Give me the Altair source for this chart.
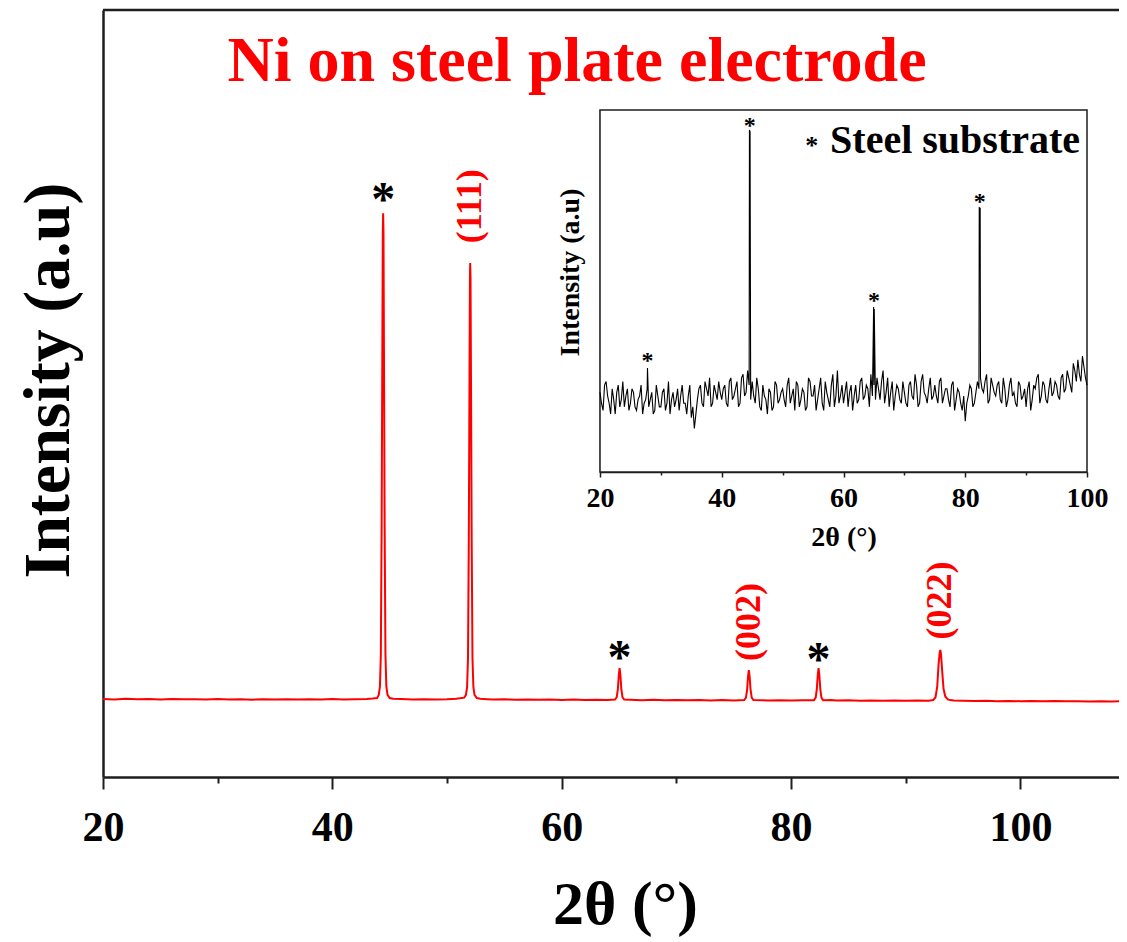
import altair as alt
import pandas as pd

FONT = "Liberation Serif"
RED = "#ff0000"
INK = "#1e1e1e"

# ---------------- main pattern (Ni on steel plate) ----------------
main_2theta = [
    20.0, 21.0, 22.0, 23.0, 24.0, 25.0, 26.0, 27.0, 28.0, 29.0, 30.0, 31.0, 32.0, 33.0, 34.0,
    35.0, 36.0, 37.0, 38.0, 39.0, 40.0, 41.0, 42.0, 43.0, 43.5,
    43.9, 44.05, 44.15, 44.23, 44.3, 44.36, 44.4, 44.43, 44.46, 44.5, 44.56, 44.63, 44.71, 44.81, 45.0, 45.3,
    46.0, 47.0, 48.0, 49.0, 50.0, 50.8,
    51.5, 51.65, 51.75, 51.83, 51.9, 51.96, 52.0, 52.02, 52.05, 52.09, 52.15, 52.22, 52.3, 52.4, 52.6, 52.9,
    53.5, 54.0, 55.0, 56.0, 57.0, 58.0, 59.0, 60.0, 61.0, 62.0, 63.0, 64.0,
    64.65, 64.8, 64.9, 64.98, 65.05, 65.12, 65.2, 65.3, 65.45,
    66.0, 67.0, 68.0, 69.0, 70.0, 71.0, 72.0, 73.0, 74.0, 75.0,
    75.92, 76.07, 76.17, 76.25, 76.32, 76.39, 76.47, 76.57, 76.72,
    77.5, 78.0, 79.0, 80.0, 81.0,
    82.0, 82.15, 82.25, 82.33, 82.4, 82.47, 82.55, 82.65, 82.8,
    83.5, 84.0, 85.0, 86.0, 87.0, 88.0, 89.0, 90.0, 91.0, 92.0,
    92.4, 92.6, 92.75, 92.87, 92.97, 93.02, 93.08, 93.18, 93.3, 93.45, 93.7, 94.2,
    95.0, 96.0, 97.0, 98.0, 99.0, 100.0, 101.0, 102.0, 103.0, 104.0, 105.0, 106.0, 107.0, 108.0, 108.6,
]
main_intensity = [
    101.8, 101.2, 101.9, 101.4, 101.6, 101.0, 101.7, 101.3, 101.5, 100.9, 101.6, 101.1, 101.4, 100.8, 101.5,
    101.0, 101.3, 100.9, 101.4, 101.0, 101.6, 101.2, 101.5, 101.8, 102.3,
    103.0, 107.0, 118.0, 160.0, 330.0, 560.0, 710.0, 735.0, 710.0, 560.0, 330.0, 160.0, 118.0, 107.0, 103.0, 102.0,
    101.8, 101.2, 101.5, 101.0, 101.4, 102.0,
    103.5, 107.0, 117.0, 155.0, 310.0, 520.0, 650.0, 670.0, 650.0, 520.0, 310.0, 155.0, 117.0, 107.0, 103.0, 102.0,
    101.5, 101.0, 101.3, 100.7, 101.1, 100.6, 101.0, 100.5, 100.9, 100.4, 100.8, 100.5,
    100.9, 104.0, 115.0, 133.0, 142.0, 133.0, 115.0, 104.0, 100.9,
    100.6, 100.2, 100.7, 100.1, 100.5, 100.0, 100.4, 99.9, 100.3, 99.9,
    100.4, 103.5, 114.0, 131.0, 139.5, 131.0, 114.0, 103.5, 100.3,
    100.2, 99.8, 100.2, 99.7, 100.1,
    100.2, 103.5, 115.0, 133.0, 142.0, 133.0, 115.0, 103.5, 100.1,
    100.3, 99.6, 100.0, 99.5, 99.9, 99.4, 99.8, 99.3, 99.7, 99.5,
    100.3, 104.0, 118.0, 148.0, 163.0, 165.6, 160.0, 138.0, 115.0, 105.0, 100.8, 99.6,
    99.4, 99.0, 99.3, 98.9, 99.2, 98.8, 99.1, 98.7, 99.0, 98.6, 98.9, 98.5, 98.8, 98.4, 98.6,
]

star_2theta = [44.43, 65.05, 82.4]
star_intensity = [763, 166, 163]
hkl_2theta = [52.03, 76.3, 93.02]
hkl_intensity = [744, 202, 230]
hkl_text = ["(111)", "(002)", "(022)"]

title_text = "Ni on steel plate electrode"
main_x_title = "2θ (°)"
main_y_title = "Intensity (a.u)"
main_ticks = [20, 30, 40, 50, 60, 70, 80, 90, 100]

# ---------------- inset pattern (bare steel substrate) ----------------
inset_grid_2theta = [
    20.0, 20.5, 21.0, 21.5, 22.0, 22.5, 23.0, 23.5, 24.0, 24.5,
    25.0, 25.5, 26.0, 26.5, 27.0, 27.5, 28.0, 28.5, 29.0, 29.5,
    30.0, 30.5, 31.0, 31.5, 32.0, 32.5, 33.0, 33.5, 34.0, 34.5,
    35.0, 35.5, 36.0, 36.5, 37.0, 37.5, 38.0, 38.5, 39.0, 39.5,
    40.0, 40.5, 41.0, 41.5, 42.0, 42.5, 43.0, 43.5, 44.0, 44.5,
    45.0, 45.5, 46.0, 46.5, 47.0, 47.5, 48.0, 48.5, 49.0, 49.5,
    50.0, 50.5, 51.0, 51.5, 52.0, 52.5, 53.0, 53.5, 54.0, 54.5,
    55.0, 55.5, 56.0, 56.5, 57.0, 57.5, 58.0, 58.5, 59.0, 59.5,
    60.0, 60.5, 61.0, 61.5, 62.0, 62.5, 63.0, 63.5, 64.0, 64.5,
    65.0, 65.5, 66.0, 66.5, 67.0, 67.5, 68.0, 68.5, 69.0, 69.5,
    70.0, 70.5, 71.0, 71.5, 72.0, 72.5, 73.0, 73.5, 74.0, 74.5,
    75.0, 75.5, 76.0, 76.5, 77.0, 77.5, 78.0, 78.5, 79.0, 79.5,
    80.0, 80.5, 81.0, 81.5, 82.0, 82.5, 83.0, 83.5, 84.0, 84.5,
    85.0, 85.5, 86.0, 86.5, 87.0, 87.5, 88.0, 88.5, 89.0, 89.5,
    90.0, 90.5, 91.0, 91.5, 92.0, 92.5, 93.0, 93.5, 94.0, 94.5,
    95.0, 95.5, 96.0, 96.5, 97.0, 97.5, 98.0, 98.5, 99.0, 99.5,
    100.0,
]
inset_grid_intensity = [
    22, 17, 25, 19, 23, 16, 24, 20, 18, 23,
    19, 22, 17, 21, 16, 20, 18, 22, 17, 21,
    18, 23, 19, 16, 22, 20, 17, 24, 19, 21,
    15, 12, 20, 24, 18, 23, 26, 19, 22, 25,
    20, 24, 18, 26, 21, 25, 19, 27, 22, 24,
    25, 19, 23, 17, 21, 16, 22, 18, 24, 20,
    23, 18, 26, 21, 17, 24, 20, 22, 18, 25,
    21, 17, 23, 19, 25, 20, 24, 18, 28, 21,
    19, 25, 22, 17, 24, 20, 26, 21, 23, 27,
    24, 26, 20, 28, 22, 18, 25, 21, 23, 19,
    22, 18, 25, 20, 24, 19, 27, 21, 23, 20,
    24, 19, 26, 21, 23, 18, 25, 20, 22, 17,
    14, 21, 23, 19, 25, 26, 22, 27, 20, 24,
    21, 25, 19, 23, 20, 26, 22, 18, 24, 21,
    18, 25, 20, 23, 27, 21, 24, 19, 26, 22,
    24, 20, 27, 23, 26, 22, 28, 31, 25, 29,
    24,
]
inset_mid_2theta = [
    20.25, 20.75, 21.25, 21.75, 22.25, 22.75, 23.25, 23.75, 24.25, 24.75,
    25.25, 25.75, 26.25, 26.75, 27.25, 27.75, 28.25, 28.75, 29.25, 29.75,
    30.25, 30.75, 31.25, 31.75, 32.25, 32.75, 33.25, 33.75, 34.25, 34.75,
    35.25, 35.75, 36.25, 36.75, 37.25, 37.75, 38.25, 38.75, 39.25, 39.75,
    40.25, 40.75, 41.25, 41.75, 42.25, 42.75, 43.25, 43.75, 44.25, 44.75,
    45.25, 45.75, 46.25, 46.75, 47.25, 47.75, 48.25, 48.75, 49.25, 49.75,
    50.25, 50.75, 51.25, 51.75, 52.25, 52.75, 53.25, 53.75, 54.25, 54.75,
    55.25, 55.75, 56.25, 56.75, 57.25, 57.75, 58.25, 58.75, 59.25, 59.75,
    60.25, 60.75, 61.25, 61.75, 62.25, 62.75, 63.25, 63.75, 64.25, 64.75,
    65.25, 65.75, 66.25, 66.75, 67.25, 67.75, 68.25, 68.75, 69.25, 69.75,
    70.25, 70.75, 71.25, 71.75, 72.25, 72.75, 73.25, 73.75, 74.25, 74.75,
    75.25, 75.75, 76.25, 76.75, 77.25, 77.75, 78.25, 78.75, 79.25, 79.75,
    80.25, 80.75, 81.25, 81.75, 82.25, 82.75, 83.25, 83.75, 84.25, 84.75,
    85.25, 85.75, 86.25, 86.75, 87.25, 87.75, 88.25, 88.75, 89.25, 89.75,
    90.25, 90.75, 91.25, 91.75, 92.25, 92.75, 93.25, 93.75, 94.25, 94.75,
    95.25, 95.75, 96.25, 96.75, 97.25, 97.75, 98.25, 98.75, 99.25, 99.75,
]
inset_mid_intensity = [
    19, 24, 21, 16, 20, 22, 18, 25, 21, 17,
    23, 18, 20, 24, 19, 23, 20, 16, 24, 18,
    22, 17, 25, 20, 18, 23, 21, 19, 16, 24,
    18, 16, 23, 19, 25, 21, 18, 24, 20, 22,
    23, 19, 25, 20, 23, 18, 26, 21, 28, 20,
    21, 26, 18, 24, 20, 23, 17, 25, 19, 22,
    20, 24, 19, 23, 25, 18, 23, 17, 26, 21,
    24, 20, 26, 17, 22, 18, 27, 21, 19, 24,
    22, 18, 24, 21, 19, 25, 20, 24, 18, 21,
    20, 23, 25, 19, 26, 22, 17, 24, 20, 25,
    19, 24, 21, 27, 18, 25, 22, 19, 26, 21,
    21, 25, 19, 23, 20, 24, 17, 23, 19, 21,
    19, 24, 18, 22, 23, 23, 25, 19, 26, 22,
    24, 20, 26, 18, 24, 21, 19, 25, 20, 23,
    23, 17, 24, 26, 19, 25, 20, 23, 21, 25,
    21, 26, 22, 28, 24, 30, 25, 27, 32, 26,
]
inset_peak_2theta = [27.8, 44.55, 44.65, 64.95, 65.05, 82.3, 82.38, 82.45]
inset_peak_intensity = [28.7, 94.5, 94.0, 45.6, 45.0, 73.2, 60.0, 73.0]
inset_star_2theta = [27.8, 44.6, 65.0, 82.38]
inset_star_intensity = [31.8, 96.7, 48.3, 75.7]
inset_ticks = [20, 30, 40, 50, 60, 70, 80, 90, 100]
inset_x_domain = [20, 100]
inset_y_domain = [0, 100]
legend_star_pos = [54.8, 91.2]
legend_text_pos = [57.8, 88.1]
legend_text = "Steel substrate"

# ---------------- tables ----------------
df_main = pd.DataFrame({"x": main_2theta, "y": main_intensity})
df_star = pd.DataFrame({"x": star_2theta, "y": star_intensity, "t": ["*"] * len(star_2theta)})
df_hkl = pd.DataFrame({"x": hkl_2theta, "y": hkl_intensity, "t": hkl_text})
df_title = pd.DataFrame({"t": [title_text]})

df_inset = pd.concat([
    pd.DataFrame({"x": inset_grid_2theta, "y": inset_grid_intensity}),
    pd.DataFrame({"x": inset_mid_2theta, "y": inset_mid_intensity}),
    pd.DataFrame({"x": inset_peak_2theta, "y": inset_peak_intensity}),
]).sort_values("x").reset_index(drop=True)
df_inset_star = pd.DataFrame({"x": inset_star_2theta, "y": inset_star_intensity,
                              "t": ["*"] * len(inset_star_2theta)})
df_frame = pd.DataFrame({"x": [inset_x_domain[0]], "x2": [inset_x_domain[1]],
                         "y": [inset_y_domain[0]], "y2": [inset_y_domain[1]]})
df_leg_star = pd.DataFrame({"x": [legend_star_pos[0]], "y": [legend_star_pos[1]], "t": ["*"]})
df_leg_text = pd.DataFrame({"x": [legend_text_pos[0]], "y": [legend_text_pos[1]], "t": [legend_text]})

# ---------------- geometry ----------------
W, H = 1016, 767
X_MAIN = alt.Scale(domain=[20, 108.6], nice=False, zero=False)
Y_MAIN = alt.Scale(domain=[0, 1000], nice=False, zero=False)
X_IN = alt.Scale(domain=inset_x_domain, range=[497, 984], nice=False, zero=False)
Y_IN = alt.Scale(domain=inset_y_domain, range=[462, 100], nice=False, zero=False)

ax_main_x = alt.Axis(
    orient="bottom", values=main_ticks, grid=False, labelOverlap=False, labelFlush=False,
    labelExpr="datum.value % 20 === 0 ? datum.label : ''",
    tickSize={"condition": {"test": "datum.value % 20 === 0", "value": 12}, "value": 6},
    tickWidth=2, tickColor=INK, domainWidth=2.5, domainColor=INK,
    labelFont=FONT, labelFontSize=42, labelFontWeight="bold", labelColor="black", labelPadding=18,
    title=main_x_title, titleFont=FONT, titleFontSize=62, titleFontWeight="bold", titleColor="black",
    titleX=522, titleY=146, titleBaseline="alphabetic", titleAlign="center",
)
ax_main_y = alt.Axis(
    orient="left", grid=False, ticks=False, labels=False, domainWidth=2.5, domainColor=INK,
    title=main_y_title, titleFont=FONT, titleFontSize=66, titleFontWeight="bold", titleColor="black",
    titleAngle=270, titleX=-35, titleY=370, titleBaseline="alphabetic", titleAlign="center",
)
ax_in_x = alt.Axis(
    orient="bottom", offset=-305, values=inset_ticks, grid=False, labelOverlap=False, labelFlush=False,
    labelExpr="datum.value % 20 === 0 ? datum.label : ''",
    tickSize={"condition": {"test": "datum.value % 20 === 0", "value": 5}, "value": 3},
    tickWidth=1.5, tickColor=INK, domainWidth=1.5, domainColor=INK,
    labelFont=FONT, labelFontSize=28, labelFontWeight="bold", labelColor="black", labelPadding=7,
    title=main_x_title, titleFont=FONT, titleFontSize=28, titleFontWeight="bold", titleColor="black",
    titleY=73, titleBaseline="alphabetic",
)
ax_in_y = alt.Axis(
    orient="left", offset=-497, grid=False, ticks=False, labels=False, domainWidth=1.5, domainColor=INK,
    title=main_y_title, titleFont=FONT, titleFontSize=28, titleFontWeight="bold", titleColor="black",
    titleAngle=270, titleX=-22, titleY=262, titleBaseline="alphabetic", titleAlign="center",
)


def mx(f="x"):
    return alt.X(f"{f}:Q", scale=X_MAIN, axis=ax_main_x)


def my(f="y"):
    return alt.Y(f"{f}:Q", scale=Y_MAIN, axis=ax_main_y)


def ix(f="x"):
    return alt.X(f"{f}:Q", scale=X_IN, axis=ax_in_x)


def iy(f="y"):
    return alt.Y(f"{f}:Q", scale=Y_IN, axis=ax_in_y)


main_line = alt.Chart(df_main).mark_line(color=RED, strokeWidth=2, clip=True).encode(
    x=mx(), y=my(), order="x:Q")
main_stars = alt.Chart(df_star).mark_text(
    font=FONT, fontSize=48, fontWeight="bold", color="black", baseline="alphabetic", align="center", dy=23
).encode(x=mx(), y=my(), text="t:N")
main_hkl = alt.Chart(df_hkl).mark_text(
    font=FONT, fontSize=36, fontWeight="bold", color=RED, angle=270, baseline="middle", align="center"
).encode(x=mx(), y=my(), text="t:N")
main_title = alt.Chart(df_title).mark_text(
    font=FONT, fontSize=64, fontWeight="bold", color=RED, baseline="middle", align="center"
).encode(x=alt.value(474), y=alt.value(51.5), text="t:N")
top_border = alt.Chart(df_title).mark_rule(color=INK, strokeWidth=2.5).encode(
    x=alt.value(0), x2=alt.value(W), y=alt.value(0))

main_layer = alt.layer(main_line, main_stars, main_hkl, main_title, top_border)

inset_frame = alt.Chart(df_frame).mark_rect(fill="white", stroke=INK, strokeWidth=1.5).encode(
    x=ix(), x2="x2:Q", y=iy(), y2="y2:Q")
inset_line = alt.Chart(df_inset).mark_line(color="black", strokeWidth=1.1).encode(
    x=ix(), y=iy(), order="x:Q")
inset_stars = alt.Chart(df_inset_star).mark_text(
    font=FONT, fontSize=24, fontWeight="bold", color="black", baseline="alphabetic", align="center", dy=11
).encode(x=ix(), y=iy(), text="t:N")
leg_star = alt.Chart(df_leg_star).mark_text(
    font=FONT, fontSize=26, fontWeight="bold", color="black", baseline="alphabetic", align="center", dy=12
).encode(x=ix(), y=iy(), text="t:N")
leg_text = alt.Chart(df_leg_text).mark_text(
    font=FONT, fontSize=40, fontWeight="bold", color="black", baseline="alphabetic", align="left"
).encode(x=ix(), y=iy(), text="t:N")

inset_layer = alt.layer(inset_frame, inset_line, inset_stars, leg_star, leg_text)

chart = alt.layer(main_layer, inset_layer).resolve_scale(
    x="independent", y="independent"
).properties(
    width=W, height=H,
    padding={"left": 95, "top": 2, "right": 0, "bottom": 165},
    autosize=alt.AutoSizeParams(type="none"),
    background="white",
).configure_view(stroke=None)

chart.save("out.html", embed_options={"renderer": "svg", "actions": False})
